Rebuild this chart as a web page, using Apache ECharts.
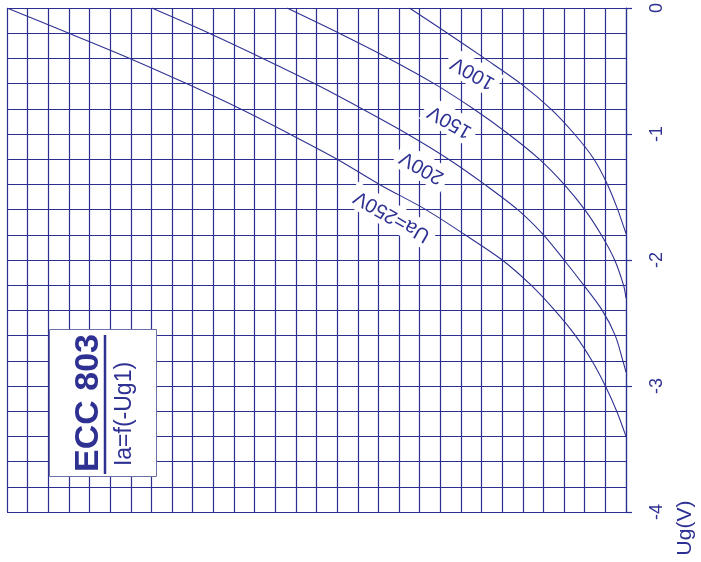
<!DOCTYPE html>
<html>
<head>
<meta charset="utf-8">
<script src="https://cdn.jsdelivr.net/npm/echarts@6/dist/echarts.min.js"></script>
<style>
html,body{margin:0;padding:0;background:#fff;}
#c{width:701px;height:562px;}
</style>
</head>
<body>
<div id="c"></div>
<script>
// Ia in grid divisions (0 at the right edge), Ug in volts
const curve250 = [[30.0,0],[27.0,-0.2],[24.05,-0.4],[21.3,-0.6],[18.7,-0.8],[16.3,-1.0],[14.0,-1.2],[11.95,-1.4],[9.7,-1.6],[7.8,-1.8],[6.0,-2.0],[4.6,-2.2],[3.45,-2.4],[2.45,-2.6],[1.65,-2.8],[1.0,-3.0],[0.45,-3.2],[0,-3.4]];
const curve200 = [[22.98,0],[20.2,-0.2],[17.6,-0.4],[15.1,-0.6],[12.8,-0.8],[10.6,-1.0],[8.6,-1.2],[6.85,-1.4],[5.25,-1.6],[4.0,-1.8],[3.0,-2.0],[2.05,-2.2],[1.15,-2.4],[0.52,-2.6],[0.15,-2.8],[0,-2.89]];
const curve150 = [[16.43,0],[13.9,-0.2],[11.5,-0.4],[9.3,-0.6],[7.4,-0.8],[5.7,-1.0],[4.2,-1.2],[3.0,-1.4],[2.0,-1.6],[1.2,-1.8],[0.55,-2.0],[0.12,-2.2],[0,-2.3]];
const curve100 = [[10.5,0],[8.65,-0.2],[6.85,-0.4],[5.1,-0.6],[3.65,-0.8],[2.5,-1.0],[1.55,-1.2],[0.9,-1.4],[0.4,-1.6],[0,-1.79]];
const curveNames = ['Ua=250V','200V','150V','100V'];
const labelPos = [[11.34,-1.652],[9.89,-1.265],[8.53,-0.901],[7.42,-0.514]];
const ugTickLabels = {'0':'0','-1':'-1','-2':'-2','-3':'-3','-4':'-4'};
const titleText = 'ECC 803';
const subtitleText = 'Ia=f(-Ug1)';
const ugAxisName = 'Ug(V)';

const C = '#2e3192';
const G = '#2b2f8f';
const chart = echarts.init(document.getElementById('c'), null, {renderer:'canvas'});
const curves = [curve250, curve200, curve150, curve100];
const lineSeries = curves.map((d,i)=>({
  type:'line', name:curveNames[i], data:d, showSymbol:false, symbol:'none',
  smooth:0.3,
  lineStyle:{color:C,width:1.1}, z:3, silent:true
}));
const labelSeries = {
  type:'scatter', symbolSize:0, z:5, silent:true,
  itemStyle:{opacity:1},
  data: labelPos.map((p,i)=>({value:p, name:curveNames[i]})),
  label:{show:true, position:'inside', formatter:p=>p.name, rotate:150,
    fontFamily:'Liberation Sans, Arial, sans-serif', fontSize:20, color:C, opacity:1,
    backgroundColor:'#fff', padding:[3,5], align:'center', verticalAlign:'middle'}
};
chart.setOption({
  animation:false,
  grid:{left:7, right:75, top:6, bottom:50, containLabel:false},
  xAxis:{type:'value', min:0, max:30, interval:1, inverse:true,
    axisLine:{show:false}, axisTick:{show:false}, axisLabel:{show:false},
    splitLine:{show:true, lineStyle:{color:G,width:1.2}}},
  yAxis:{type:'value', position:'right', min:-4, max:0, interval:1,
    axisLine:{show:true, lineStyle:{color:G,width:1.2}},
    axisTick:{show:true, length:6, lineStyle:{color:G,width:1.2}},
    minorTick:{show:false, splitNumber:5},
    minorSplitLine:{show:true, lineStyle:{color:G,width:1.2}},
    splitLine:{show:true, lineStyle:{color:G,width:1.2}},
    axisLabel:{show:true, rotate:90, margin:22, fontSize:18, color:C,
      fontFamily:'Liberation Sans, Arial, sans-serif',
      formatter:v=>{const k=String(Math.round(v)); return ugTickLabels[k]!==undefined && Math.abs(v-Math.round(v))<1e-6 ? ugTickLabels[k] : '';}}
  },
  series: lineSeries.concat([labelSeries]),
  graphic:[
    {type:'rect', shape:{x:49.5,y:329.5,width:107,height:147}, style:{fill:'#fff', stroke:'#6b70a8', lineWidth:1}, z:10},
    {type:'text', x:89, y:403, rotation:Math.PI/2, z:11,
      style:{text:titleText, fontSize:34, fontWeight:'bold', fontFamily:'Liberation Sans, Arial, sans-serif', fill:C, align:'center', verticalAlign:'middle'}},
    {type:'line', shape:{x1:105,y1:335,x2:105,y2:474}, style:{stroke:C, lineWidth:2.5}, z:11},
    {type:'text', x:125, y:414, rotation:Math.PI/2, z:11,
      style:{text:subtitleText, fontSize:23, fontFamily:'Liberation Sans, Arial, sans-serif', fill:C, align:'center', verticalAlign:'middle'}},
    {type:'text', x:685, y:528, rotation:Math.PI/2, z:11,
      style:{text:ugAxisName, fontSize:21, fontFamily:'Liberation Sans, Arial, sans-serif', fill:C, align:'center', verticalAlign:'middle'}}
  ]
});
</script>
</body>
</html>
